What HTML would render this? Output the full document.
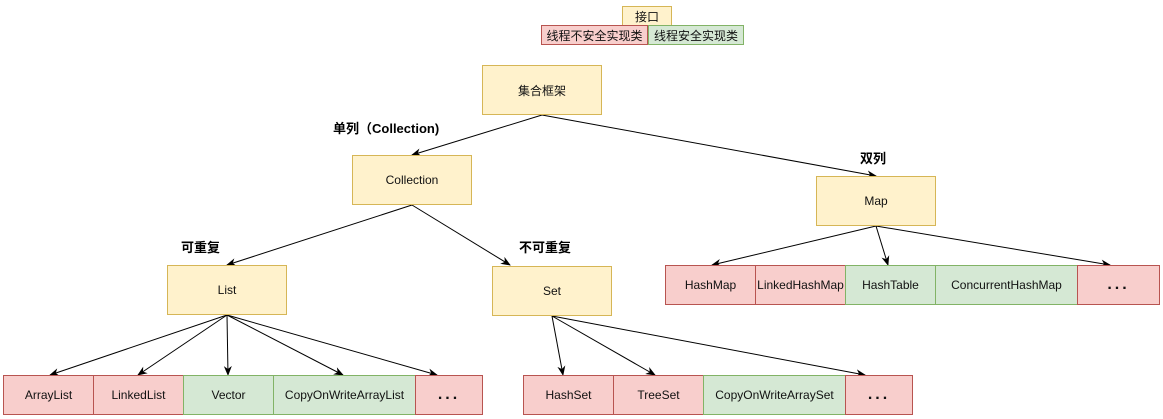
<!DOCTYPE html>
<html><head><meta charset="utf-8"><style>
body{margin:0;background:#fff;width:1163px;height:419px;overflow:hidden;position:relative;font-family:"Liberation Sans","Noto Sans CJK SC",sans-serif;}
.b{position:absolute;box-sizing:border-box;display:flex;align-items:center;justify-content:center;font-size:12px;color:#111;}
.y{background:#fff2cc;border:1px solid #d6b656;}
.r{background:#f8cecc;border:1px solid #b85450;}
.g{background:#d5e8d4;border:1px solid #82b366;}
.l{position:absolute;font-weight:bold;font-size:13px;color:#000;white-space:nowrap;}
.d{font-size:16px;font-weight:bold;letter-spacing:3px;}
</style></head><body>
<svg width="1163" height="419" style="position:absolute;left:0;top:0">
<defs><marker id="a" markerWidth="10" markerHeight="10" refX="9" refY="5" orient="auto" markerUnits="userSpaceOnUse"><path d="M0,1 L10,5 L0,9 L3,5 z" fill="#000"/></marker></defs>
<g stroke="#000" stroke-width="1" fill="none" marker-end="url(#a)">
<line x1="542" y1="115" x2="412" y2="155"/>
<line x1="542" y1="115" x2="876" y2="176"/>
<line x1="412" y1="205" x2="227" y2="265"/>
<line x1="412" y1="205" x2="510" y2="265"/>
<line x1="876" y1="226" x2="712" y2="265"/>
<line x1="876" y1="226" x2="888" y2="265"/>
<line x1="876" y1="226" x2="1110" y2="265"/>
<line x1="227" y1="315" x2="50" y2="375"/>
<line x1="227" y1="315" x2="138" y2="375"/>
<line x1="227" y1="315" x2="228" y2="375"/>
<line x1="227" y1="315" x2="343" y2="375"/>
<line x1="227" y1="315" x2="437" y2="375"/>
<line x1="552" y1="316" x2="563" y2="375"/>
<line x1="552" y1="316" x2="655" y2="375"/>
<line x1="552" y1="316" x2="865" y2="375"/>
</g></svg>
<div class="b y" style="left:622px;top:6px;width:50px;height:20px">接口</div>
<div class="b r" style="left:541px;top:25px;width:107px;height:20px">线程不安全实现类</div>
<div class="b g" style="left:648px;top:25px;width:96px;height:20px">线程安全实现类</div>
<div class="b y" style="left:482px;top:65px;width:120px;height:50px">集合框架</div>
<div class="b y" style="left:352px;top:155px;width:120px;height:50px">Collection</div>
<div class="b y" style="left:816px;top:176px;width:120px;height:50px">Map</div>
<div class="b y" style="left:167px;top:265px;width:120px;height:50px">List</div>
<div class="b y" style="left:492px;top:266px;width:120px;height:50px">Set</div>
<div class="l" style="left:333px;top:118px">单列（Collection)</div>
<div class="l" style="left:860px;top:148px">双列</div>
<div class="l" style="left:181px;top:237px">可重复</div>
<div class="l" style="left:519px;top:237px">不可重复</div>
<div class="b r" style="left:3px;top:375px;width:91px;height:40px">ArrayList</div>
<div class="b r" style="left:93px;top:375px;width:91px;height:40px">LinkedList</div>
<div class="b g" style="left:183px;top:375px;width:91px;height:40px">Vector</div>
<div class="b g" style="left:273px;top:375px;width:143px;height:40px">CopyOnWriteArrayList</div>
<div class="b r d" style="left:415px;top:375px;width:68px;height:40px">...</div>
<div class="b r" style="left:523px;top:375px;width:91px;height:40px">HashSet</div>
<div class="b r" style="left:613px;top:375px;width:91px;height:40px">TreeSet</div>
<div class="b g" style="left:703px;top:375px;width:143px;height:40px">CopyOnWriteArraySet</div>
<div class="b r d" style="left:845px;top:375px;width:68px;height:40px">...</div>
<div class="b r" style="left:665px;top:265px;width:91px;height:40px">HashMap</div>
<div class="b r" style="left:755px;top:265px;width:91px;height:40px">LinkedHashMap</div>
<div class="b g" style="left:845px;top:265px;width:91px;height:40px">HashTable</div>
<div class="b g" style="left:935px;top:265px;width:143px;height:40px">ConcurrentHashMap</div>
<div class="b r d" style="left:1077px;top:265px;width:83px;height:40px">...</div>
</body></html>
